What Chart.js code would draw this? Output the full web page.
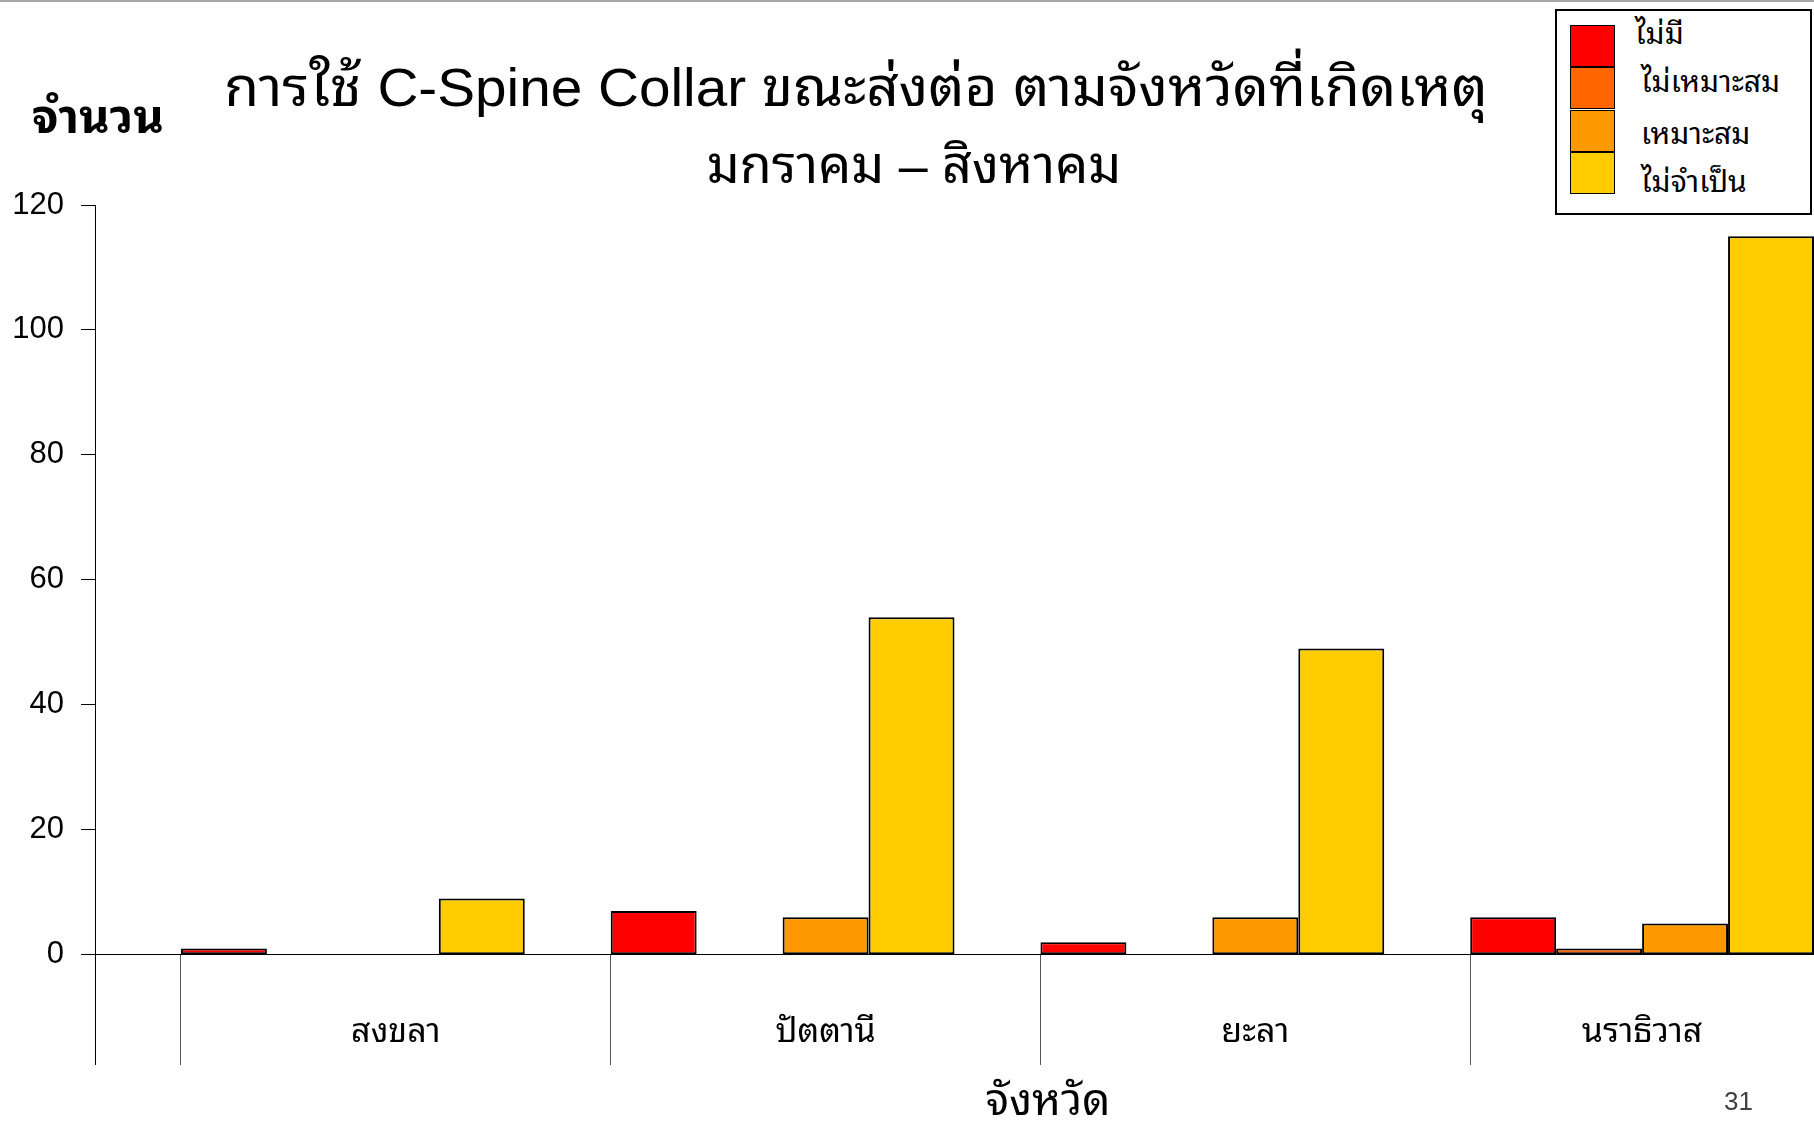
<!DOCTYPE html>
<html lang="th">
<head>
<meta charset="utf-8">
<script src="https://cdn.jsdelivr.net/npm/chart.js@4.4.1/dist/chart.umd.min.js"></script>
<style>
  html, body { margin: 0; padding: 0; background: #fff; }
  body {
    width: 1814px; height: 1124px; overflow: hidden; position: relative;
    font-family: "Liberation Sans", "Noto Sans Thai Looped", "Noto Sans Thai", sans-serif;
    color: #000;
  }
  #topline { position: absolute; left: 0; top: 0; width: 1814px; height: 2px; background: #a6a6a6; }
  #wrap { position: absolute; left: 0; top: 0; width: 1814px; height: 1124px; }
  .txt { position: absolute; white-space: nowrap; line-height: 1; }
  #title1 { left: 856px; top: 60px; transform: translateX(-50%) scaleX(1.05); font-size: 54px; }
  #title2 { left: 914px; top: 139px; transform: translateX(-50%); font-size: 52px; }
  #ytitle { left: 32px; top: 93px; font-size: 47px; font-weight: bold; }
  #xtitle { left: 1048px; top: 1078px; transform: translateX(-50%); font-size: 44px; }
  #page { left: 1724px; top: 1088px; font-size: 26px; color: #404040; }
  #legend {
    position: absolute; left: 1555px; top: 9px; width: 253px; height: 202px;
    border: 2px solid #000; background: #fff;
  }
  .sw { position: absolute; left: 13px; width: 43px; height: 40px; border: 1.5px solid #000; }
  .lg { position: absolute; font-size: 30px; line-height: 1; white-space: nowrap; }
</style>
</head>
<body>
<div id="topline"></div>
<div id="wrap"><canvas id="chart"></canvas></div>
<div class="txt" id="title1">การใช้ C-Spine Collar ขณะส่งต่อ ตามจังหวัดที่เกิดเหตุ</div>
<div class="txt" id="title2">มกราคม – สิงหาคม</div>
<div class="txt" id="ytitle">จำนวน</div>
<div class="txt" id="xtitle">จังหวัด</div>
<div class="txt" id="page">31</div>
<div id="legend"></div>
<script>
// ---- data ----
const provinces = ['สงขลา', 'ปัตตานี', 'ยะลา', 'นราธิวาส'];
const seriesNames = ['ไม่มี', 'ไม่เหมาะสม', 'เหมาะสม', 'ไม่จำเป็น'];
const noneValues = [1, 7, 2, 6];
const unsuitableValues = [0, 0, 0, 1];
const suitableValues = [0, 6, 6, 5];
const notNeededValues = [9, 54, 49, 115];
const yTicks = [0, 20, 40, 60, 80, 100, 120];

// ---- styling ----
const seriesColors = ['#ff0000', '#ff6600', '#ff9900', '#ffcc00'];
const thaiFont = '"Liberation Sans", "Noto Sans Thai Looped", "Noto Sans Thai", sans-serif';

const seriesValues = [noneValues, unsuitableValues, suitableValues, notNeededValues];

// x range: the last group is cut by the right edge of the slide
const xMin = -0.6;
const xMax = 3.4;

// bars sit on a linear x axis: group i is centred on x = i,
// group boundaries fall at i - 0.4, labels in the middle of the visible part of a group
const datasets = seriesValues.map((vals, s) => ({
    label: seriesNames[s],
    data: vals.map((v, i) => ({ x: i, y: v })),
    backgroundColor: seriesColors[s],
    borderColor: '#000',
    borderWidth: 2,
    borderSkipped: false,
    categoryPercentage: 0.8,
    barPercentage: 1,
    xAxisID: 'x'
}));

const chart = new Chart(document.getElementById('chart'), {
    type: 'bar',
    data: { datasets },
    options: {
        responsive: true,
        maintainAspectRatio: false,
        animation: false,
        layout: { padding: { top: 205, bottom: 60, left: 0, right: 0 } },
        plugins: { legend: { display: false }, tooltip: { enabled: false } },
        scales: {
            x: {
                type: 'linear',
                min: xMin,
                max: xMax,
                offset: false,
                position: { y: 0 },
                afterBuildTicks: ax => { ax.ticks = provinces.map((p, i) => ({ value: i - 0.4 })); },
                ticks: { display: false },
                grid: { offset: false, drawOnChartArea: false, drawTicks: true, tickLength: 110, color: '#555', lineWidth: 1 },
                border: { display: true, color: '#000', width: 1 }
            },
            xl: {
                type: 'linear',
                axis: 'x',
                min: xMin,
                max: xMax,
                offset: false,
                position: { y: 0 },
                afterBuildTicks: ax => {
                    ax.ticks = provinces.map((p, i) => ({ value: ((i - 0.4) + Math.min(i + 0.6, xMax)) / 2 }));
                },
                ticks: {
                    callback: (v, i) => provinces[i],
                    padding: 58,
                    maxRotation: 0,
                    autoSkip: false,
                    color: '#000',
                    font: { family: thaiFont, size: 34, lineHeight: 1.2 }
                },
                grid: { display: false, drawTicks: false, offset: false },
                border: { display: false }
            },
            y: {
                min: -17.5,
                max: 120,
                position: 'left',
                afterBuildTicks: ax => { ax.ticks = yTicks.map(v => ({ value: v })); },
                afterFit: ax => { ax.width = 95; },
                ticks: { padding: 17, color: '#000', font: { family: '"Liberation Sans", Arial, sans-serif', size: 31 } },
                grid: { drawOnChartArea: false, tickLength: 14, color: '#000', lineWidth: 1 },
                border: { color: '#000', width: 1 }
            }
        }
    }
});

// legend box built from the datasets
const legendEl = document.getElementById('legend');
const labelCentres = [24, 72, 124, 172];
chart.data.datasets.forEach((ds, i) => {
    const sw = document.createElement('div');
    sw.className = 'sw';
    sw.style.top = (14 + i * 42.3) + 'px';
    sw.style.background = ds.backgroundColor;
    legendEl.appendChild(sw);
    const lb = document.createElement('div');
    lb.className = 'lg';
    lb.textContent = ds.label;
    lb.style.left = (i === 0 ? 78 : 84) + 'px';
    lb.style.top = (labelCentres[i] - 16) + 'px';
    legendEl.appendChild(lb);
});
</script>
</body>
</html>
